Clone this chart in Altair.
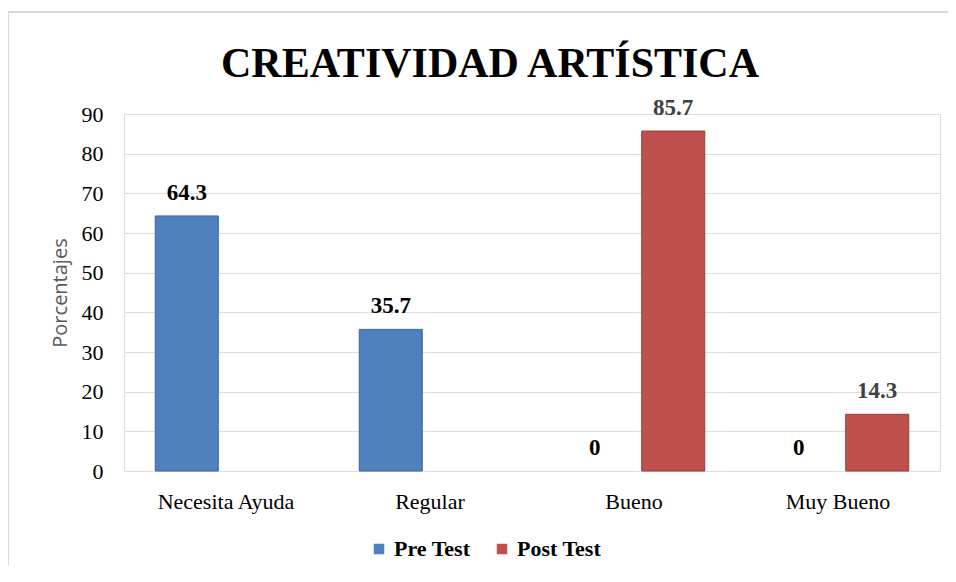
import altair as alt
import pandas as pd

categories = ["Necesita Ayuda", "Regular", "Bueno", "Muy Bueno"]
series = ["Pre Test", "Post Test"]
pre_test = [64.3, 35.7, 0, 0]
post_test = [None, None, 85.7, 14.3]
y_ticks = [0, 10, 20, 30, 40, 50, 60, 70, 80, 90]

rows = []
for c, v in zip(categories, pre_test):
    rows.append({"categoria": c, "serie": "Pre Test", "valor": v})
for c, v in zip(categories, post_test):
    rows.append({"categoria": c, "serie": "Post Test", "valor": v})
df = pd.DataFrame(rows)

SERIF = "Liberation Serif"
W, H = 816, 357

x_enc = alt.X("categoria:N", sort=categories,
              scale=alt.Scale(paddingInner=0, paddingOuter=0),
              axis=alt.Axis(title=None, labelAngle=0, ticks=False, domain=False,
                            labelFont=SERIF, labelFontSize=22, labelColor="black",
                            labelPadding=20, grid=False))
xoff = alt.XOffset("serie:N", sort=series,
                   scale=alt.Scale(paddingInner=0.197, paddingOuter=0.398))
y_enc = alt.Y("valor:Q", scale=alt.Scale(domain=[0, 90], nice=False),
              axis=alt.Axis(values=y_ticks, ticks=False, domain=False, grid=True,
                            labelOverlap=False,
                            labelFont=SERIF, labelFontSize=22, labelColor="black",
                            labelPadding=21,
                            title="Porcentajes", titleFont="Open Sans",
                            titleFontSize=20, titleFontWeight="normal",
                            titleColor="#595959", titleAngle=270,
                            titleX=-64, titleY=H / 2, titleAlign="center",
                            titleBaseline="middle"))

base = alt.Chart(df).transform_filter("isValid(datum.valor)")

bars = base.transform_filter("datum.valor > 0").mark_bar(strokeWidth=1).encode(
    x=x_enc, xOffset=xoff, y=y_enc,
    color=alt.Color("serie:N", sort=series,
                    scale=alt.Scale(domain=series, range=["#4F81BD", "#C0504D"]),
                    legend=alt.Legend(title=None, orient="none", legendX=244, legendY=424,
                                      direction="horizontal", symbolType="square",
                                      symbolSize=110, symbolStrokeWidth=0,
                                      labelFont=SERIF, labelFontSize=22,
                                      labelFontWeight="bold", labelColor="black",
                                      columnPadding=20, labelOffset=4)),
    stroke=alt.Stroke("serie:N", sort=series,
                      scale=alt.Scale(domain=series, range=["#3A6699", "#963B39"]),
                      legend=None),
)

labels = base.mark_text(font=SERIF, fontSize=23, fontWeight="bold",
                        baseline="alphabetic", dy=-16).encode(
    x=x_enc, xOffset=xoff, y=y_enc,
    text=alt.Text("valor:Q", format="~g"),
    color=alt.Color("serie:N", sort=series,
                    scale=alt.Scale(domain=series, range=["#000000", "#404040"]),
                    legend=None),
)

border_top = alt.Chart(df).mark_rule(color="#D9D9D9", strokeWidth=2).encode(
    x=alt.value(-116), x2=alt.value(840), y=alt.value(-102))
border_left = alt.Chart(df).mark_rule(color="#D9D9D9", strokeWidth=2).encode(
    x=alt.value(-116), y=alt.value(-102), y2=alt.value(480))

chart = alt.layer(border_top, border_left, bars, labels).resolve_scale(
    color="independent"
).properties(
    width=W, height=H,
    autosize=alt.AutoSizeParams(type="none"),
    padding={"left": 116, "top": 106, "right": 8, "bottom": 95},
    title=alt.TitleParams("CREATIVIDAD ARTÍSTICA", font=SERIF, fontSize=42,
                          fontWeight="bold", color="black", anchor="middle",
                          baseline="alphabetic", dx=-42, dy=108, offset=0),
).configure_view(stroke=None).configure_axis(
    gridColor="#D9D9D9", gridWidth=1.5
).configure(background="white")

chart.save("out.html", embed_options={"renderer": "svg", "actions": False})
